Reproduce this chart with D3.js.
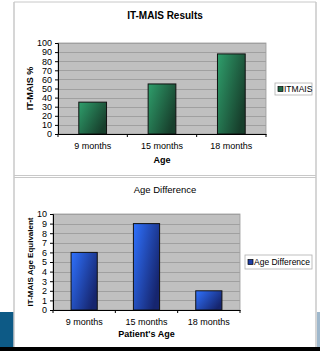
<!DOCTYPE html>
<html>
<head>
<meta charset="utf-8">
<script src="https://cdn.jsdelivr.net/npm/d3@7"></script>
<style>
  body { margin: 0; background: #fff; }
  svg { display: block; font-family: "Liberation Sans", Arial, sans-serif; }
</style>
</head>
<body>
<svg id="chart" width="320" height="351"></svg>
<script>
// data
var categories = ["9 months", "15 months", "18 months"];
var itmaisValues = [35, 55, 88];
var ageDiffValues = [6, 9, 2];
var itmaisTicks = d3.range(0, 101, 10);
var ageDiffTicks = d3.range(0, 11, 1);

var svg = d3.select("#chart");
var defs = svg.append("defs");

function grad(id, c1, c2) {
  var g = defs.append("linearGradient").attr("id", id)
    .attr("x1", "0%").attr("y1", "0%").attr("x2", "100%").attr("y2", "60%");
  g.append("stop").attr("offset", "0%").attr("stop-color", c1);
  g.append("stop").attr("offset", "100%").attr("stop-color", c2);
}
grad("gGreen", "#2f9f6c", "#173f2c");
grad("gBlue", "#2f72ff", "#16256e");

// slide background bits
svg.append("rect").attr("x", 0).attr("y", 312).attr("width", 14).attr("height", 36).attr("fill", "#0d5a86");
svg.append("rect").attr("x", 317).attr("y", 312).attr("width", 3).attr("height", 36).attr("fill", "#9fb8cc");
svg.append("rect").attr("x", 0).attr("y", 347).attr("width", 320).attr("height", 4).attr("fill", "#000");

// panel borders
svg.append("line").attr("x1", 14).attr("x2", 14).attr("y1", 2).attr("y2", 347).attr("stroke", "#c8c8c8").attr("stroke-width", 1.5);
svg.append("line").attr("x1", 316).attr("x2", 316).attr("y1", 2).attr("y2", 347).attr("stroke", "#c8c8c8").attr("stroke-width", 1.5);
svg.append("line").attr("x1", 14).attr("x2", 316).attr("y1", 2).attr("y2", 2).attr("stroke", "#c8c8c8");
svg.append("line").attr("x1", 14).attr("x2", 316).attr("y1", 175.5).attr("y2", 175.5).attr("stroke", "#c8c8c8");
svg.append("line").attr("x1", 14).attr("x2", 316).attr("y1", 177.5).attr("y2", 177.5).attr("stroke", "#c8c8c8");

function drawChart(o) {
  var g = svg.append("g");
  var x = d3.scaleBand().domain(categories).range([o.left, o.right])
    .paddingInner(o.padIn).paddingOuter(o.padIn / 2);
  var y = d3.scaleLinear().domain([0, o.max]).range([o.bottom, o.top]);

  g.append("rect").attr("x", o.left).attr("y", o.top)
    .attr("width", o.right - o.left).attr("height", o.bottom - o.top)
    .attr("fill", "#c0c0c0").attr("stroke", "#9a9a9a").attr("stroke-width", 0.8);

  g.selectAll(".grid").data(o.ticks.slice(1)).enter().append("line")
    .attr("x1", o.left).attr("x2", o.right)
    .attr("y1", function(d) { return Math.round(y(d)) + 0.5; })
    .attr("y2", function(d) { return Math.round(y(d)) + 0.5; })
    .attr("stroke", "#a0a0a0").attr("stroke-width", 1);

  g.selectAll(".bar").data(o.values).enter().append("rect")
    .attr("x", function(d, i) { return x(categories[i]); })
    .attr("y", function(d) { return y(d); })
    .attr("width", x.bandwidth())
    .attr("height", function(d) { return o.bottom - y(d); })
    .attr("fill", o.fill).attr("stroke", "#111").attr("stroke-width", 1);

  var ya = g.append("g").attr("transform", "translate(" + o.left + ",0)")
    .call(d3.axisLeft(y).tickValues(o.ticks).tickSize(3).tickPadding(3));
  ya.selectAll("text").attr("font-size", 9).attr("fill", "#000");
  ya.selectAll("line").attr("stroke", "#000");
  ya.select(".domain").attr("stroke", "#000");

  var xa = g.append("g").attr("transform", "translate(0," + o.bottom + ")")
    .call(d3.axisBottom(x).tickSize(0).tickPadding(9));
  xa.selectAll("text").attr("font-size", 9).attr("fill", "#000");
  xa.select(".domain").attr("stroke", "#000");
  g.selectAll(".xt").data(d3.range(0, 4)).enter().append("line")
    .attr("x1", function(d) { return o.left + d * (o.right - o.left) / 3; })
    .attr("x2", function(d) { return o.left + d * (o.right - o.left) / 3; })
    .attr("y1", o.bottom).attr("y2", o.bottom + 3)
    .attr("stroke", "#000");

  g.append("text").attr("x", 165).attr("y", o.titleY).attr("text-anchor", "middle")
    .attr("font-size", o.titleBold ? 10 : 9.5).attr("font-weight", o.titleBold ? "bold" : "normal").text(o.title);
  g.append("text").attr("x", (o.left + o.right) / 2).attr("y", o.xTitleY).attr("text-anchor", "middle")
    .attr("font-size", 9).attr("font-weight", "bold").text(o.xTitle);
  g.append("text").attr("transform", "translate(" + o.yTitleX + "," + ((o.top + o.bottom) / 2) + ") rotate(-90)")
    .attr("text-anchor", "middle").attr("font-size", o.yTitleSize).attr("font-weight", "bold").text(o.yTitle);

  // legend
  var lg = o.legend;
  g.append("rect").attr("x", lg.x).attr("y", lg.y).attr("width", lg.w).attr("height", lg.h)
    .attr("fill", "#fff").attr("stroke", "#b0b0b0").attr("stroke-width", 0.8);
  g.append("rect").attr("x", lg.x + 3).attr("y", lg.y + lg.h / 2 - 2.5).attr("width", 5).attr("height", 5)
    .attr("fill", o.swatch).attr("stroke", "#000").attr("stroke-width", 0.7);
  g.append("text").attr("x", lg.x + 9).attr("y", lg.y + lg.h / 2 + 3).attr("font-size", 8.5).text(lg.label);
}

drawChart({
  values: itmaisValues, ticks: itmaisTicks, max: 100,
  left: 58, right: 266, top: 43, bottom: 134, padIn: 0.6,
  fill: "url(#gGreen)", swatch: "#1f6a48",
  title: "IT-MAIS Results", titleY: 19, titleBold: true,
  xTitle: "Age", xTitleY: 163, yTitle: "IT-MAIS %", yTitleX: 33, yTitleSize: 9,
  legend: { x: 275, y: 83, w: 37, h: 12, label: "ITMAIS" }
});

drawChart({
  values: ageDiffValues, ticks: ageDiffTicks, max: 10,
  left: 53, right: 240, top: 214, bottom: 310, padIn: 0.58,
  fill: "url(#gBlue)", swatch: "#1f3fa8",
  title: "Age Difference", titleY: 193, titleBold: false,
  xTitle: "Patient's Age", xTitleY: 337, yTitle: "IT-MAIS Age Equivalent", yTitleX: 33, yTitleSize: 8,
  legend: { x: 245, y: 255, w: 67, h: 14, label: "Age Difference" }
});
</script>
</body>
</html>
